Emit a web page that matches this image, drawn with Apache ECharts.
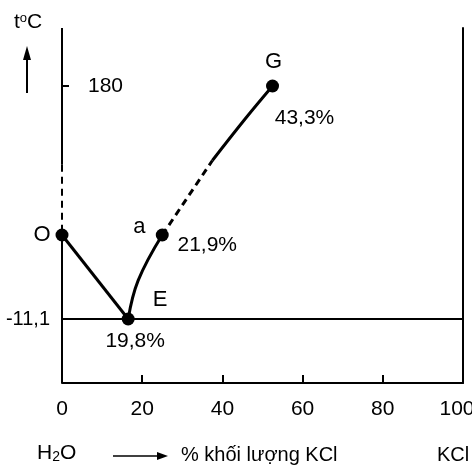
<!DOCTYPE html>
<html>
<head>
<meta charset="utf-8">
<script src="https://cdn.jsdelivr.net/npm/echarts@6/dist/echarts.min.js"></script>
<style>
html, body { margin: 0; padding: 0; background: #fff; }
#chart { width: 472px; height: 469px; }
</style>
</head>
<body>
<div id="chart"></div>
<script>
// Giản đồ H2O - KCl (vẽ theo sơ đồ, không theo tỉ lệ)
const FONT = '"Liberation Sans", Arial, sans-serif';

const yTickTemps = [180, -11.1];
const yTickLabels = ['180', '-11,1'];

// các điểm: vị trí % KCl như trên hình, nhiệt độ °C
const pointNames = ['O', 'E', 'a', 'G'];
const pointX = [0, 16.5, 25, 52.5];
const pointT = [0, -11.1, 0, 180];
const pointPct = ['', '19,8%', '21,9%', '43,3%'];

// đường O -> E
const iceX = [0, 16.5];
const iceT = [0, -11.1];
// đường E -> a (liền)
const solX1 = [16.5, 19, 25];
const solT1 = [-11.1, -6, 0];
// đường a -> ... (nét đứt)
const solX2 = [25, 37.5];
const solT2 = [0, 90];
// đường ... -> G (liền)
const solX3 = [37.5, 45.8, 52.5];
const solT3 = [90, 141, 180];
// đường ngang eutecti
const eutX = [0, 100];
const eutT = [-11.1, -11.1];
// trục trái: đoạn nét đứt phía trên O
const axisDashT = [85, 0];

// thang nhiệt độ không tuyến tính của sơ đồ: nhiệt độ -> mức trên trục
const scaleT = [-11.1, 0, 180];
const scaleL = [64, 148, 297];
const Y_MAX = 355;
function lv(t) {
    const i = t < scaleT[1] ? 0 : 1;
    const k = (scaleL[i + 1] - scaleL[i]) / (scaleT[i + 1] - scaleT[i]);
    return scaleL[i] + (t - scaleT[i]) * k;
}
const pts = (xs, ts) => xs.map((x, i) => [x, lv(ts[i])]);

const chart = echarts.init(document.getElementById('chart'));

const lineBase = (data, opts = {}) => ({
    type: 'line',
    data: data,
    symbol: 'none',
    silent: true,
    smooth: opts.smooth || false,
    lineStyle: {
        color: '#000',
        width: opts.width || 3,
        type: opts.dashed ? [7, 5] : 'solid',
        cap: 'butt'
    },
    z: 3
});

const letterOffsets = [[-20, 0], [32, -19], [-23, -8], [1, -24]];
const pctOffsets = [[0, 0], [7, 22], [45, 10], [32, 32]];

const option = {
    backgroundColor: '#fff',
    animation: false,
    textStyle: { fontFamily: FONT },
    grid: { left: 62, right: 9, top: 28, bottom: 86, containLabel: false, outerBoundsMode: 'none' },
    xAxis: {
        type: 'value',
        min: 0,
        max: 100,
        interval: 20,
        axisLine: { onZero: false, lineStyle: { color: '#000', width: 2 } },
        axisTick: { show: true, inside: true, length: 8, lineStyle: { color: '#000', width: 2 } },
        axisLabel: {
            color: '#000',
            fontSize: 21,
            fontFamily: FONT,
            margin: 16,
            // nhãn 100 bị lệch sát mép phải như trong hình gốc
            formatter: (v) => v === 100 ? '{r|' + v + '}' : String(v),
            rich: { r: { fontSize: 21, fontFamily: FONT, color: '#000', padding: [0, 12, 0, 0] } }
        },
        splitLine: { show: false }
    },
    yAxis: [
        {
            type: 'value',
            min: 0,
            max: Y_MAX,
            position: 'left',
            axisLine: { show: false },
            splitLine: { show: false },
            axisTick: {
                show: true,
                inside: true,
                length: 7,
                customValues: [lv(yTickTemps[0])],
                lineStyle: { color: '#000', width: 2 }
            },
            axisLabel: {
                customValues: [lv(yTickTemps[1])],
                formatter: () => yTickLabels[1],
                color: '#000',
                fontSize: 20,
                fontFamily: FONT,
                margin: 12
            }
        },
        {
            type: 'value',
            min: 0,
            max: Y_MAX,
            position: 'left',
            axisLine: { show: false },
            splitLine: { show: false },
            axisTick: { show: false },
            axisLabel: {
                inside: true,
                customValues: [lv(yTickTemps[0])],
                formatter: () => yTickLabels[0],
                color: '#000',
                fontSize: 21,
                fontFamily: FONT,
                margin: 26
            }
        },
        {
            type: 'value',
            min: 0,
            max: Y_MAX,
            position: 'right',
            axisLine: { show: true, lineStyle: { color: '#000', width: 2 } },
            splitLine: { show: false },
            axisTick: { show: false },
            axisLabel: { show: false }
        }
    ],
    series: [
        // trục trái vẽ từng đoạn
        lineBase([[0, Y_MAX], [0, lv(axisDashT[0])]], { width: 2 }),
        lineBase([[0, lv(axisDashT[0])], [0, lv(axisDashT[1])]], { width: 2, dashed: true }),
        lineBase([[0, lv(axisDashT[1])], [0, 0]], { width: 2 }),
        lineBase(pts(eutX, eutT), { width: 2 }),
        lineBase(pts(iceX, iceT)),
        lineBase(pts(solX1, solT1), { smooth: 0.4 }),
        lineBase(pts(solX2, solT2), { dashed: true }),
        lineBase(pts(solX3, solT3), { smooth: 0.4 }),
        {
            type: 'scatter',
            symbol: 'circle',
            symbolSize: 13,
            itemStyle: { color: '#000', opacity: 1 },
            z: 5,
            data: pointNames.map((n, i) => ({
                value: [pointX[i], lv(pointT[i])],
                label: {
                    show: true,
                    position: 'inside',
                    offset: letterOffsets[i],
                    formatter: n,
                    color: '#000',
                    opacity: 1,
                    fontSize: 22,
                    fontFamily: FONT
                }
            }))
        },
        {
            type: 'scatter',
            symbolSize: 0,
            itemStyle: { color: '#000', opacity: 1 },
            z: 5,
            data: pointNames.map((n, i) => ({
                value: [pointX[i], lv(pointT[i])],
                label: {
                    show: pointPct[i] !== '',
                    position: 'inside',
                    offset: pctOffsets[i],
                    formatter: pointPct[i],
                    color: '#000',
                    opacity: 1,
                    fontSize: 21,
                    fontFamily: FONT
                }
            }))
        }
    ],
    graphic: [
        {
            type: 'text', left: 14, top: 12,
            style: {
                text: 't{s|o}C',
                fill: '#000',
                fontSize: 21,
                fontFamily: FONT,
                rich: { s: { fontSize: 13, fontFamily: FONT, verticalAlign: 'top', fill: '#000' } }
            }
        },
        { type: 'line', shape: { x1: 27, y1: 93, x2: 27, y2: 56 }, style: { stroke: '#000', lineWidth: 2 } },
        { type: 'polygon', shape: { points: [[23, 60], [27, 46], [31, 60]] }, style: { fill: '#000' } },
        {
            type: 'text', left: 37, top: 443,
            style: {
                text: 'H{b|2}O',
                fill: '#000',
                fontSize: 21,
                fontFamily: FONT,
                rich: { b: { fontSize: 14, fontFamily: FONT, verticalAlign: 'bottom', padding: [8, 0, 0, 0], fill: '#000' } }
            }
        },
        { type: 'line', shape: { x1: 113, y1: 456, x2: 160, y2: 456 }, style: { stroke: '#000', lineWidth: 1.5 } },
        { type: 'polygon', shape: { points: [[157, 452], [168, 456], [157, 460]] }, style: { fill: '#000' } },
        {
            type: 'text', left: 181, top: 445,
            style: { text: '% khối lượng KCl', fill: '#000', fontSize: 20, fontFamily: FONT }
        },
        {
            type: 'text', left: 437, top: 445,
            style: { text: 'KCl', fill: '#000', fontSize: 20, fontFamily: FONT }
        }
    ]
};

chart.setOption(option);
</script>
</body>
</html>
